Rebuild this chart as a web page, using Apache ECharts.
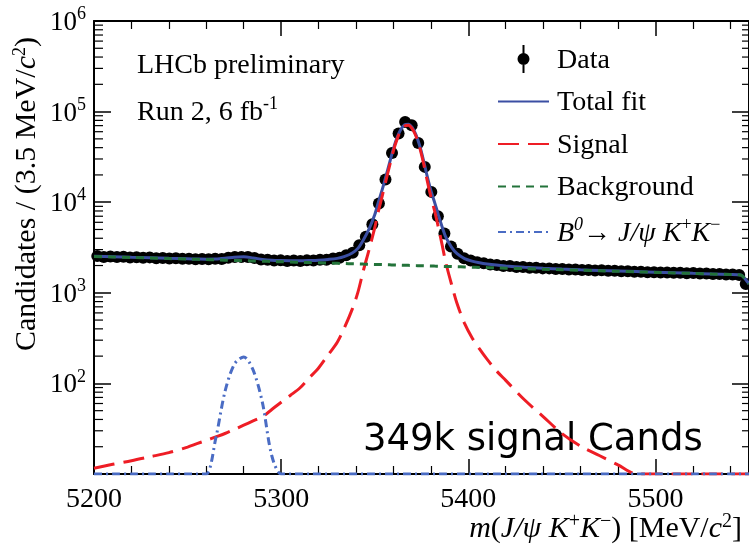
<!DOCTYPE html>
<html><head><meta charset="utf-8">
<script src="https://cdn.jsdelivr.net/npm/echarts@6/dist/echarts.min.js"></script>
<style>html,body{margin:0;padding:0;background:#fff}#c{width:749px;height:550px}</style>
</head><body><div id="c"></div>
<script>
// ---- data ----
const binCentres = [
5201.75,5205.25,5208.75,5212.25,5215.75,5219.25,5222.75,5226.25,5229.75,5233.25,
5236.75,5240.25,5243.75,5247.25,5250.75,5254.25,5257.75,5261.25,5264.75,5268.25,
5271.75,5275.25,5278.75,5282.25,5285.75,5289.25,5292.75,5296.25,5299.75,5303.25,
5306.75,5310.25,5313.75,5317.25,5320.75,5324.25,5327.75,5331.25,5334.75,5338.25,
5341.75,5345.25,5348.75,5352.25,5355.75,5359.25,5362.75,5366.25,5369.75,5373.25,
5376.75,5380.25,5383.75,5387.25,5390.75,5394.25,5397.75,5401.25,5404.75,5408.25,
5411.75,5415.25,5418.75,5422.25,5425.75,5429.25,5432.75,5436.25,5439.75,5443.25,
5446.75,5450.25,5453.75,5457.25,5460.75,5464.25,5467.75,5471.25,5474.75,5478.25,
5481.75,5485.25,5488.75,5492.25,5495.75,5499.25,5502.75,5506.25,5509.75,5513.25,
5516.75,5520.25,5523.75,5527.25,5530.75,5534.25,5537.75,5541.25,5544.75,5548.25];
const dataCounts = [
2540,2490,2520,2480,2500,2450,2470,2440,2460,2410,
2420,2390,2400,2370,2380,2350,2360,2340,2370,2360,
2440,2490,2480,2480,2420,2330,2320,2270,2280,2250,
2270,2240,2280,2270,2310,2310,2390,2430,2590,2760,
3350,4145,5723,9680,17810,34990,57280,76900,70700,45100,
24540,13000,7010,4520,3250,2690,2400,2270,2170,2120,
2050,2030,1980,1980,1930,1930,1890,1890,1860,1860,
1830,1830,1810,1810,1780,1790,1760,1770,1750,1750,
1730,1730,1710,1710,1690,1690,1680,1680,1660,1660,
1640,1650,1630,1630,1610,1610,1590,1590,1570,1250];

const fitMass = [5200,5210,5220,5230,5240,5250,5255,5260,5265,5270,5275,5280,5285,5290,5295,5300,5305,5310,5315,5320,5325,5330,
5334,5338,5341,5344,5347,5350,5352,5354,5356,5358,5360,5362,5364,5366,5368,5370,5372,5374,5376,5378,5380,5382,5384,5386,5388,
5391,5394,5398,5402,5406,5410,5415,5420,5430,5440,5450,5460,5470,5480,5490,5500,5510,5520,5530,5540,5544,5546,5548,5550];
const fitTotal = [2532,2499,2467,2436,2404,2375,2362,2352,2358,2403,2471,2493,2427,2335,2283,2266,2261,2261,2272,2291,2333,2399,
2523,2751,3093,3854,5066,7258,10052,13747,19341,27536,39030,52024,63919,71513,72608,66803,55697,42292,29386,19481,13476,9970,7265,5360,4104,
3197,2699,2388,2238,2148,2082,2023,1980,1913,1865,1826,1793,1766,1739,1713,1688,1664,1639,1616,1594,1584,1562,1422,1252];
const fitSignal = [11.6,12.8,14.0,15.5,17.2,19.8,21.6,23.5,25.6,28.0,31.1,34.6,38.5,42.9,51.5,62,74,89,115,148,205,285,
420,660,1010,1780,3000,5200,8000,11700,17300,25500,37000,50000,61900,69500,70600,64800,53700,40300,27400,17500,11500,8000,5300,3400,2150,
1250,760,460,320,240,185,138,108,66,43,28,20.3,16,12.6,10,10,10,10,10,10,10,10,10,10];
const fitBkg = [2520,2486,2453,2420,2387,2355,2340,2324,2308,2293,2277,2262,2247,2231,2216,2201,2187,2172,2157,2143,2128,2114,
2103,2091,2083,2074,2066,2058,2052,2047,2041,2036,2030,2024,2019,2013,2008,2003,1997,1992,1986,1981,1976,1970,1965,1960,1954,
1947,1939,1928,1918,1908,1897,1885,1872,1847,1822,1798,1773,1750,1726,1703,1680,1658,1635,1613,1592,1583,1560,1420,1250];
const fitB0 = [10,10,10,10,10,10,10,10,24.4,81.5,163,196,141,61.3,15.9,10,10,10,10,10,10,10,
10,10,10,10,10,10,10,10,10,10,10,10,10,10,10,10,10,10,10,10,10,10,10,10,10,
10,10,10,10,10,10,10,10,10,10,10,10,10,10,10,10,10,10,10,10,10,10,10,10];

const xTickLabels = [5200, 5300, 5400, 5500];
const yTickExponents = [2, 3, 4, 5, 6];

// ---- drawing ----
const serif = '"Liberation Serif","Times New Roman",serif';
const chart = echarts.init(document.getElementById('c'), null, {renderer: 'canvas', width: 749, height: 550});
const pairs = (xs, ys) => xs.map((x, i) => [x, ys[i]]);
const supTok = {fontFamily: serif, fontSize: 18, color: '#000', lineHeight: 18, verticalAlign: 'bottom', padding: [0, 0, 13, 0]};
const supItal = Object.assign({}, supTok, {fontStyle: 'italic'});
const base = {fontFamily: serif, fontSize: 28, color: '#000', lineHeight: 31, verticalAlign: 'bottom'};
const ital = Object.assign({}, base, {fontStyle: 'italic'});
const B0NAME = 'B0 \u2192 J/\u03c8 K+K\u2212';
const dataIcon = 'path://M5,0h2v28h-2z M0,14a6,6 0 1,1 12,0a6,6 0 1,1 -12,0z';
const COLORS = {total: '#3b4fa3', signal: '#ee1d25', bkg: '#23733a', b0: '#4a6cc4'};

const GL = 94, GT = 21, GW = 657, GH = 453;
const axisCommon = {
  axisLine: {show: true, onZero: false, lineStyle: {color: '#000', width: 2}},
  splitLine: {show: false}
};
const hideSym = {opacity: 0};
chart.setOption({
  animation: false,
  backgroundColor: '#fff',
  grid: {left: GL, top: GT, width: GW, height: GH, containLabel: false},
  xAxis: [
    Object.assign({type: 'value', min: 5200, max: 5550, interval: 100, position: 'bottom',
      axisTick: {inside: true, length: 15, lineStyle: {color: '#000', width: 1.5}},
      minorTick: {show: true, splitNumber: 5, length: 8, lineStyle: {color: '#000', width: 1.2}},
      axisLabel: {show: true, showMaxLabel: false, margin: 12, color: '#000', fontFamily: serif, fontSize: 28,
        formatter: v => xTickLabels.indexOf(v) >= 0 ? String(v) : ''}}, axisCommon),
    Object.assign({type: 'value', min: 5200, max: 5550, interval: 100, position: 'top',
      axisTick: {inside: true, length: 15, lineStyle: {color: '#000', width: 1.5}},
      minorTick: {show: true, splitNumber: 5, length: 8, lineStyle: {color: '#000', width: 1.2}},
      axisLabel: {show: false}}, axisCommon)
  ],
  yAxis: [
    Object.assign({type: 'log', logBase: 10, min: 10, max: 1e6, position: 'left',
      axisTick: {inside: true, length: 17, lineStyle: {color: '#000', width: 1.5}},
      axisLabel: {show: true, showMinLabel: false, margin: 8,
        formatter: v => { const e = Math.round(Math.log10(v)); return yTickExponents.indexOf(e) >= 0 ? '{b|10}{s|' + e + '}' : ''; },
        rich: {b: Object.assign({}, base, {fontSize: 27}), s: supTok}}}, axisCommon),
    Object.assign({type: 'log', logBase: 10, min: 10, max: 1e6, position: 'right',
      axisTick: {inside: true, length: 17, lineStyle: {color: '#000', width: 1.5}},
      axisLabel: {show: false}}, axisCommon)
  ],
  legend: {
    orient: 'vertical', left: 492, top: 40, itemGap: 14.5, itemWidth: 51, itemHeight: 28,
    data: [
      {name: 'Data', icon: dataIcon, itemStyle: {color: '#000', opacity: 1}},
      {name: 'Total fit', itemStyle: hideSym},
      {name: 'Signal', itemStyle: hideSym},
      {name: 'Background', itemStyle: hideSym},
      {name: B0NAME, itemStyle: hideSym}
    ],
    formatter: n => n === B0NAME ? '{i|B}{si|0}{b|\u2192 }{i|J/\u03c8 K}{s|+}{i|K}{s|\u2212}' : '{b|' + n + '}',
    textStyle: {padding: [0, 0, 0, 3], rich: {b: base, i: ital, s: supTok, si: supItal}},
    selectedMode: false
  },
  series: [
    {name: 'Data', type: 'scatter', data: pairs(binCentres, dataCounts), symbol: 'circle', symbolSize: 12,
     itemStyle: {color: '#000', opacity: 1}, z: 2},
    {name: 'Total fit', type: 'line', data: pairs(fitMass, fitTotal), showSymbol: false, symbol: 'none', smooth: 0.3,
     itemStyle: {color: COLORS.total}, lineStyle: {color: COLORS.total, width: 3}, z: 3},
    {name: 'Signal', type: 'line', data: pairs(fitMass, fitSignal), showSymbol: false, symbol: 'none', smooth: 0.3,
     itemStyle: {color: COLORS.signal}, lineStyle: {color: COLORS.signal, width: 3, type: [21, 9]}, z: 4},
    {name: 'Background', type: 'line', data: pairs(fitMass, fitBkg), showSymbol: false, symbol: 'none', smooth: 0.3,
     itemStyle: {color: COLORS.bkg}, lineStyle: {color: COLORS.bkg, width: 3, type: [8, 6]}, z: 5},
    {name: B0NAME, type: 'line', data: pairs(fitMass, fitB0), showSymbol: false, symbol: 'none', smooth: 0.3,
     itemStyle: {color: COLORS.b0}, lineStyle: {color: COLORS.b0, width: 3, type: [8, 4, 2, 4]}, z: 5}
  ]
});

// log minor ticks (2..9 x 10^k) placed through the y-axis scale
const els = [];
for (let k = 1; k <= 5; k++) {
  for (let j = 2; j <= 9; j++) {
    const y = chart.convertToPixel({yAxisIndex: 0}, j * Math.pow(10, k));
    els.push({type: 'line', shape: {x1: GL, y1: y, x2: GL + 9, y2: y}, style: {stroke: '#000', lineWidth: 1.2}, silent: true});
    els.push({type: 'line', shape: {x1: GL + GW - 9, y1: y, x2: GL + GW, y2: y}, style: {stroke: '#000', lineWidth: 1.2}, silent: true});
  }
}
const titleSup = Object.assign({}, supTok, {fontSize: 20, lineHeight: 20, padding: [0, 0, 13, 0]});
els.push({type: 'text', x: 137, y: 66, silent: true,
  style: {text: 'LHCb preliminary', fontFamily: serif, fontSize: 28, fill: '#000', align: 'left', verticalAlign: 'middle'}});
els.push({type: 'text', x: 137, y: 111, silent: true,
  style: {text: '{b|Run 2, 6 fb}{s|-1}', align: 'left', verticalAlign: 'middle', rich: {b: base, s: supTok}}});
els.push({type: 'text', x: 27, y: 194, rotation: Math.PI / 2, silent: true,
  style: {text: '{b|Candidates / (3.5 MeV/}{i|c}{s|2}{b|)}', align: 'center', verticalAlign: 'middle',
    rich: {b: Object.assign({}, base, {fontSize: 30}), i: Object.assign({}, ital, {fontSize: 30}), s: supTok}}});
els.push({type: 'text', x: 742, y: 528, silent: true,
  style: {text: '{i|m}{b|(}{i|J/\u03c8 K}{s|+}{i|K}{s|\u2212}{b|) [MeV/}{i|c}{s|2}{b|]}', align: 'right', verticalAlign: 'middle',
    rich: {b: Object.assign({}, base, {fontSize: 30, lineHeight: 33}), i: Object.assign({}, ital, {fontSize: 30, lineHeight: 33}), s: titleSup}}});
els.push({type: 'text', x: 363, y: 440, silent: true,
  style: {text: '349k signal Cands', fontFamily: '"DejaVu Sans",sans-serif', fontSize: 37, fill: '#000', align: 'left', verticalAlign: 'middle'}});
chart.setOption({graphic: {elements: els}});
</script>
</body></html>
